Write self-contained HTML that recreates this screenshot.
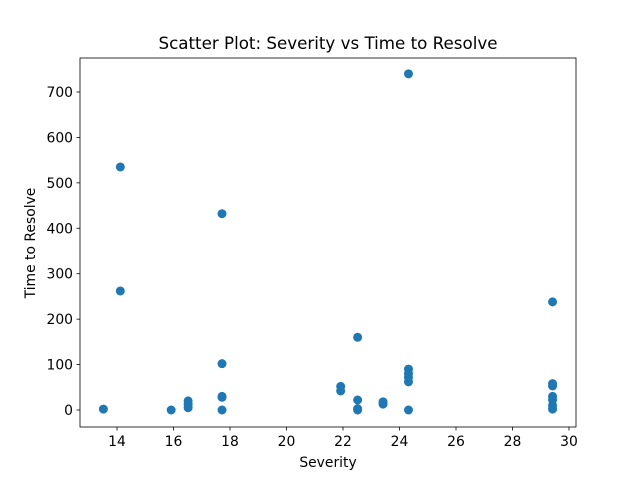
<!DOCTYPE html>
<html><head><meta charset="utf-8"><style>body{margin:0;background:#fff}svg{font-family:"DejaVu Sans","Liberation Sans",sans-serif}</style></head>
<body>
<svg id="chart" width="640" height="480"></svg>
<script>
const xs=[13.5,14.1,14.1,15.9,16.5,16.5,16.5,17.7,17.7,17.7,17.7,17.7,21.9,21.9,22.5,22.5,22.5,22.5,23.4,23.4,24.3,24.3,24.3,24.3,24.3,24.3,29.4,29.4,29.4,29.4,29.4,29.4,29.4];
const ys=[2,535,262,0,20,12,5,432,102,30,28,0,52,42,160,22,3,0,18,13,740,90,80,72,62,0,238,58,53,30,22,10,2];
const xTicks=[14,16,18,20,22,24,26,28,30];
const yTicks=[0,100,200,300,400,500,600,700];
const L=80,R=576,T=58,B=427;
const sx=v=>117+(v-14)*28.25, sy=v=>410-v*0.4543;
const svg=document.getElementById('chart');const NS='http://www.w3.org/2000/svg';
function mk(t,a,txt){const e=document.createElementNS(NS,t);for(const k in a)e.setAttribute(k,a[k]);if(txt!=null)e.textContent=txt;svg.appendChild(e);return e;}
xs.forEach((x,i)=>{const c=mk('circle',{cx:sx(x)+0.5,cy:sy(ys[i]),r:4.5,fill:'#1f77b4'});

});
const f=mk('rect',{x:L,y:T,width:R-L,height:B-T,fill:'none',stroke:'#000','stroke-width':0.8});


xTicks.forEach(t=>{const x=sx(t);mk('line',{x1:x,x2:x,y1:B,y2:B+3.5,stroke:'#000','stroke-width':0.8});
const l=mk('text',{x:x,y:B+19,'font-size':13.9,'text-anchor':'middle'},t);

});
yTicks.forEach(t=>{const y=sy(t);mk('line',{x1:L,x2:L-3.5,y1:y,y2:y,stroke:'#000','stroke-width':0.8});
const l=mk('text',{x:L-7,y:y+5,'font-size':13.9,'text-anchor':'end'},t);

});
const xt=mk('text',{x:328,y:467,'font-size':13.9,'text-anchor':'middle'},'Severity');


const yt=mk('text',{x:35,y:243,'font-size':13.9,'text-anchor':'middle',transform:'rotate(-90 35 243)'},'Time to Resolve');


const ti=mk('text',{x:328,y:49,'font-size':16.7,'text-anchor':'middle'},'Scatter Plot: Severity vs Time to Resolve');


</script>
</body></html>
